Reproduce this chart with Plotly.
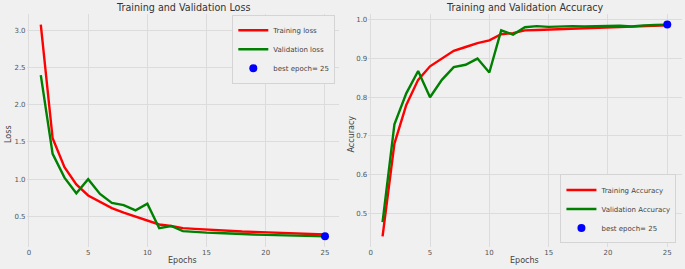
import plotly.graph_objects as go

epochs = list(range(1, 26))
train_loss = [3.08, 1.55, 1.16, 0.93, 0.78, 0.69, 0.61, 0.55, 0.50, 0.45, 0.39, 0.37, 0.34,
              0.33, 0.32, 0.315, 0.30, 0.295, 0.29, 0.285, 0.28, 0.275, 0.265, 0.26, 0.255]
val_loss = [2.40, 1.34, 1.02, 0.81, 1.00, 0.80, 0.68, 0.65, 0.58, 0.67, 0.34, 0.37, 0.30,
            0.285, 0.28, 0.275, 0.265, 0.26, 0.255, 0.25, 0.248, 0.245, 0.235, 0.232, 0.23]
train_acc = [0.44, 0.68, 0.78, 0.845, 0.88, 0.90, 0.92, 0.93, 0.94, 0.947, 0.963, 0.966, 0.973,
             0.974, 0.975, 0.976, 0.978, 0.979, 0.98, 0.981, 0.982, 0.983, 0.984, 0.985, 0.986]
val_acc = [0.477, 0.73, 0.81, 0.868, 0.80, 0.845, 0.878, 0.884, 0.90, 0.864, 0.973, 0.962, 0.981,
           0.984, 0.982, 0.983, 0.984, 0.983, 0.984, 0.985, 0.985, 0.983, 0.986, 0.987, 0.988]
best_epoch = 25
best_loss = 0.23
best_acc = 0.988

BG = "#f0f0f0"
GRID = "#dcdcdc"
TXT = "#444444"
FONT = "DejaVu Sans"

fig = go.Figure()

def add(x, y, name, color, xa, ya, legend):
    fig.add_trace(go.Scatter(x=x, y=y, mode="lines", name=name,
                             line=dict(color=color, width=2.4),
                             xaxis=xa, yaxis=ya, legend=legend))

add(epochs, train_loss, "Training loss", "red", "x", "y", "legend")
add(epochs, val_loss, "Validation loss", "green", "x", "y", "legend")
fig.add_trace(go.Scatter(x=[best_epoch], y=[best_loss], mode="markers", name="best epoch= 25",
                         marker=dict(color="blue", size=8), xaxis="x", yaxis="y", legend="legend"))
add(epochs, train_acc, "Training Accuracy", "red", "x2", "y2", "legend2")
add(epochs, val_acc, "Validation Accuracy", "green", "x2", "y2", "legend2")
fig.add_trace(go.Scatter(x=[best_epoch], y=[best_acc], mode="markers", name="best epoch= 25",
                         marker=dict(color="blue", size=8), xaxis="x2", yaxis="y2", legend="legend2"))

axcommon = dict(showgrid=True, gridcolor=GRID, gridwidth=1, zeroline=False, showline=False,
                ticks="", automargin=False, ticklabeloverflow="allow",
                tickfont=dict(size=7, color="#555555", family=FONT))

ydom = [0.082, 0.948]
fig.update_layout(
    width=685, height=269,
    margin=dict(l=0, r=0, t=0, b=0),
    paper_bgcolor=BG, plot_bgcolor=BG,
    font=dict(family=FONT, color=TXT),
    showlegend=True,
    xaxis=dict(domain=[0.0388, 0.4952], range=[-0.2, 26.2], tickvals=[0, 5, 10, 15, 20, 25], **axcommon),
    yaxis=dict(domain=ydom, range=[0.0875, 3.2225], tickvals=[0.5, 1.0, 1.5, 2.0, 2.5, 3.0],
               tickformat=".1f", **axcommon),
    xaxis2=dict(domain=[0.5377, 0.9949], range=[-0.2, 26.2], tickvals=[0, 5, 10, 15, 20, 25],
                anchor="y2", **axcommon),
    yaxis2=dict(domain=ydom, range=[0.4126, 1.0154], tickvals=[0.5, 0.6, 0.7, 0.8, 0.9, 1.0],
                tickformat=".1f", anchor="x2", **axcommon),
    legend=dict(x=0.4895, y=0.945, xanchor="right", yanchor="top", bgcolor=BG,
                bordercolor="#d4d4d4", borderwidth=1, font=dict(size=7, color=TXT),
                tracegroupgap=0, itemwidth=30),
    legend2=dict(x=0.9875, y=0.095, xanchor="right", yanchor="bottom", bgcolor=BG,
                 bordercolor="#d4d4d4", borderwidth=1, font=dict(size=7, color=TXT),
                 tracegroupgap=0, itemwidth=30),
    annotations=[
        dict(text="Training and Validation Loss", x=0.2667, y=1.0, xref="paper", yref="paper",
             xanchor="center", yanchor="top", yshift=0, showarrow=False, font=dict(size=9.6, color="#333333")),
        dict(text="Training and Validation Accuracy", x=0.7663, y=1.0, xref="paper", yref="paper",
             xanchor="center", yanchor="top", yshift=0, showarrow=False, font=dict(size=9.6, color="#333333")),
        dict(text="Epochs", x=0.2667, y=0.0, xref="paper", yref="paper", xanchor="center",
             yanchor="bottom", yshift=2, showarrow=False, font=dict(size=8, color=TXT)),
        dict(text="Epochs", x=0.7663, y=0.0, xref="paper", yref="paper", xanchor="center",
             yanchor="bottom", yshift=2, showarrow=False, font=dict(size=8, color=TXT)),
        dict(text="Loss", x=0.0, y=0.5, xref="paper", yref="paper", xanchor="left",
             yanchor="middle", xshift=2, textangle=-90, showarrow=False, font=dict(size=8, color=TXT)),
        dict(text="Accuracy", x=0.5, y=0.5, xref="paper", yref="paper", xanchor="left",
             yanchor="middle", xshift=2, textangle=-90, showarrow=False, font=dict(size=8, color=TXT)),
    ],
)

fig.write_html("out.html", config={"displayModeBar": False},
               post_script="document.body.style.margin='0px';document.body.style.overflow='hidden';")
